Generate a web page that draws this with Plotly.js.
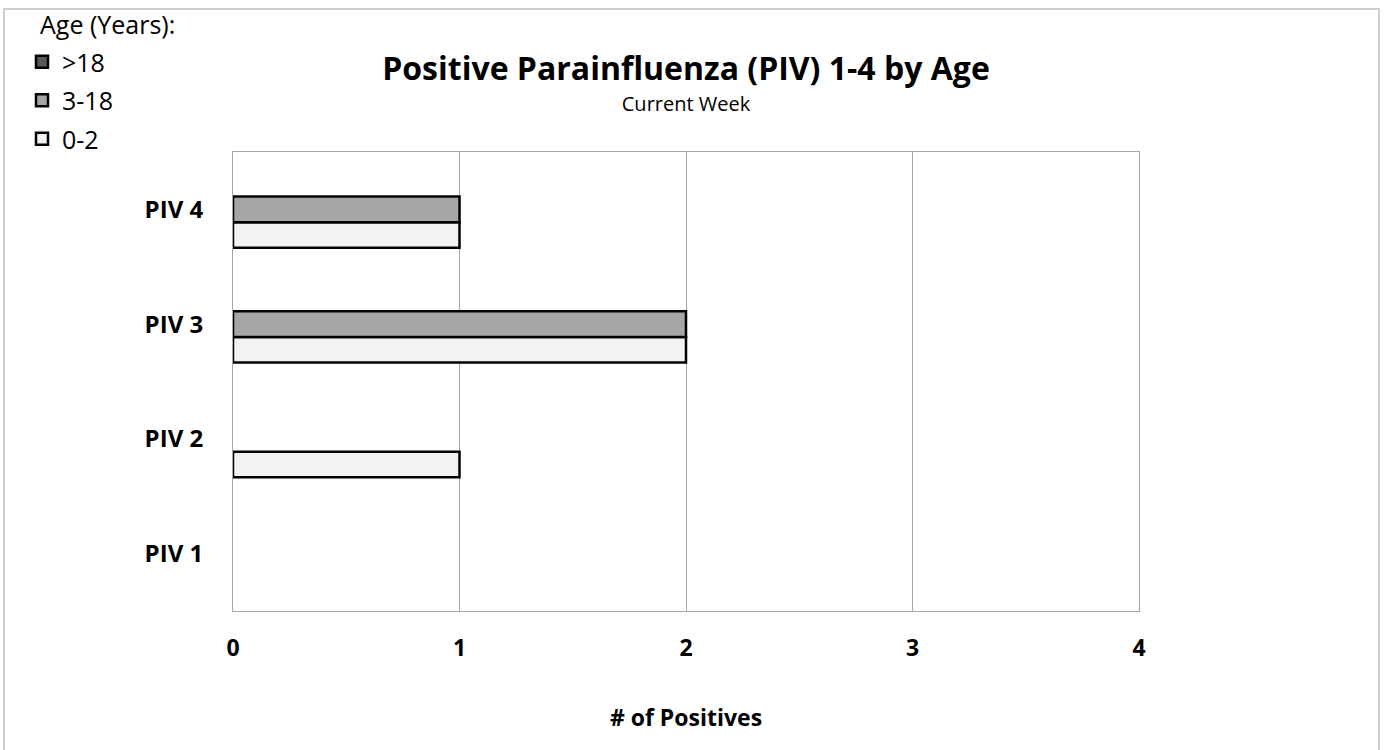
<!DOCTYPE html>
<html>
<head>
<meta charset="utf-8">
<script src="https://cdn.plot.ly/plotly-3.0.1.min.js"></script>
<style>html,body{margin:0;padding:0;background:#fff;}#chart{width:1385px;height:750px;}</style>
</head>
<body>
<div id="chart"></div>
<script>
const categories = ["PIV 1", "PIV 2", "PIV 3", "PIV 4"];
const seriesNames = ["0-2", "3-18", ">18"];
const values_0_2 = [0, 1, 2, 1];
const values_3_18 = [0, 0, 2, 1];
const values_gt18 = [0, 0, 0, 0];
const xTicks = [0, 1, 2, 3, 4];
const colors = ["#f2f2f2", "#a6a6a6", "#595959"];
const legendRanks = [3, 2, 1];

const FONT = "'Open Sans', sans-serif";
const seriesValues = [values_0_2, values_3_18, values_gt18];
const traces = seriesValues.map((vals, i) => ({
  type: "bar",
  orientation: "h",
  name: seriesNames[i],
  y: categories,
  // zero counts are not drawn (no outline sliver at 0)
  x: vals.map(v => (v === 0 ? null : v)),
  customdata: vals,
  legendgroup: "g" + i,
  legendrank: legendRanks[i],
  marker: { color: colors[i], line: { color: "#000", width: 2.5 } },
  hovertemplate: "%{y}: %{customdata}<extra>" + seriesNames[i] + "</extra>"
}));

const PL = 233, PR = 1139, PT = 152, PB = 611;
const pw = PR - PL, ph = PB - PT;

const layout = {
  width: 1385, height: 750,
  margin: { l: PL, r: 1385 - PR, t: PT, b: 750 - PB },
  paper_bgcolor: "#fff", plot_bgcolor: "#fff",
  font: { family: FONT, size: 23, color: "#000" },
  barmode: "group", bargap: 0.33, bargroupgap: 0,
  title: {
    text: "<span style='font-size:32px'><b>Positive Parainfluenza (PIV) 1-4 by Age</b></span><br><span style='font-size:20px'>Current Week</span>",
    font: { size: 24, family: FONT, color: "#000" },
    x: (PL + PR) / 2 / 1385, xanchor: "center",
    yref: "container", y: 1 - 80 / 750, yanchor: "top"
  },
  xaxis: {
    range: [0, 4], tickvals: xTicks, ticktext: xTicks.map(String),
    showgrid: true, gridcolor: "#a6a6a6", gridwidth: 1,
    zeroline: false, showline: true, mirror: true, linecolor: "#a6a6a6", linewidth: 1,
    ticks: "", ticklabelstandoff: 16,
    tickfont: { size: 23, family: FONT, weight: "bold", color: "#000" },
    title: { text: "<b># of Positives</b>", font: { size: 23, family: FONT, color: "#000" }, standoff: 48 },
    fixedrange: true
  },
  yaxis: {
    type: "category", categoryorder: "array", categoryarray: categories,
    showgrid: false, zeroline: false, showline: true, mirror: true, linecolor: "#a6a6a6", linewidth: 1,
    ticks: "", ticklabelstandoff: 24,
    tickfont: { size: 24, family: FONT, weight: "bold", color: "#000" },
    fixedrange: true
  },
  showlegend: true,
  legend: {
    xref: "container", yref: "container",
    x: 22 / 1385, y: 1 - 39 / 750, xanchor: "left", yanchor: "top",
    traceorder: "grouped", tracegroupgap: 3,
    font: { size: 25, family: FONT, color: "#000" },
    itemwidth: 30, bgcolor: "rgba(0,0,0,0)"
  },
  annotations: [{
    text: "Age (Years):", xref: "paper", yref: "paper",
    x: (38 - PL) / pw, y: (PB - 24) / ph, xanchor: "left", yanchor: "middle",
    showarrow: false, font: { size: 25, family: FONT, color: "#000" }
  }],
  shapes: [{
    type: "rect", xref: "paper", yref: "paper",
    x0: (4 - PL) / pw, x1: (1379 - PL) / pw,
    y0: (PB - 760) / ph, y1: (PB - 9) / ph,
    line: { color: "#bfbfbf", width: 1.5 }, fillcolor: "rgba(0,0,0,0)", layer: "below"
  }]
};

Plotly.newPlot("chart", traces, layout, { displayModeBar: false });
</script>
</body>
</html>
